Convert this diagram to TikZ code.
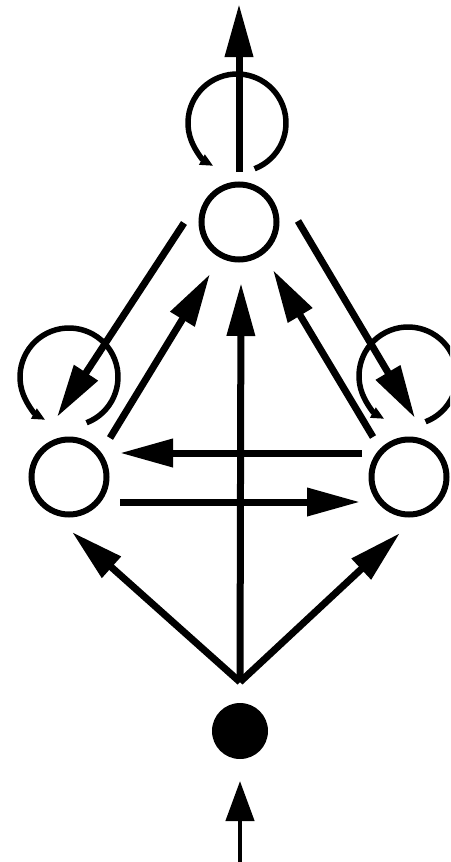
\documentclass[tikz,border=0pt]{standalone}
\usetikzlibrary{arrows.meta}
\begin{document}
\begin{tikzpicture}[x=1pt,y=1pt,
  state/.style={circle,draw,line width=6pt,minimum size=75pt,inner sep=0pt},
  dot/.style={circle,fill,minimum size=56pt,inner sep=0pt},
  flow/.style={line width=7pt,-{Triangle[length=53pt,width=27pt]}},
  feed/.style={line width=4.5pt,-{Triangle[length=40pt,width=28pt]}},
  loopline/.style={line width=5.5pt,-{Triangle[length=13pt,width=11pt]}}]
\clip (0,0) rectangle (450,-862);
% states
\node[state] (T) at (239,-222) {};
\node[state] (L) at (69,-477) {};
\node[state] (R) at (409,-477) {};
\node[dot] (S) at (240,-731) {};
% connector end points
\coordinate (j) at (240,-682);
\coordinate (in) at (240,-862);
\coordinate (inT) at (240,-781);
\coordinate (out0) at (239,-172);
\coordinate (out1) at (239,-4);
\coordinate (ctip) at (241,-283);
\coordinate (ljtip) at (72,-532);
\coordinate (rjtip) at (400,-533);
\coordinate (TLs) at (184,-223);
\coordinate (TLe) at (57,-417);
\coordinate (LTs) at (110,-438);
\coordinate (LTe) at (210,-274);
\coordinate (TRs) at (298,-221);
\coordinate (TRe) at (415,-418);
\coordinate (RTs) at (373,-437);
\coordinate (RTe) at (273,-270);
\coordinate (RLs) at (362,-453);
\coordinate (RLe) at (120,-453);
\coordinate (LRs) at (120,-502);
\coordinate (LRe) at (360,-502);
% loop centres
\coordinate (cT) at (237,-123);
\coordinate (cL) at (69,-377);
\coordinate (cR) at (408,-376);
% connectors
\draw[feed] (in) -- (inT);
\draw[flow] (j) -- (ctip);
\draw[flow] (j) -- (ljtip);
\draw[flow] (j) -- (rjtip);
\draw[flow] (out0) -- (out1);
\draw[flow] (TLs) -- (TLe);
\draw[flow] (LTs) -- (LTe);
\draw[flow] (TRs) -- (TRe);
\draw[flow] (RTs) -- (RTe);
\draw[flow] (RLs) -- (RLe);
\draw[flow] (LRs) -- (LRe);
% self loops
\draw[loopline] (cT) ++(-69:49) arc[start angle=-69,end angle=241,radius=49];
\draw[loopline] (cL) ++(-69:49) arc[start angle=-69,end angle=241,radius=49];
\draw[loopline] (cR) ++(-69:49) arc[start angle=-69,end angle=241,radius=49];
\end{tikzpicture}
\end{document}
